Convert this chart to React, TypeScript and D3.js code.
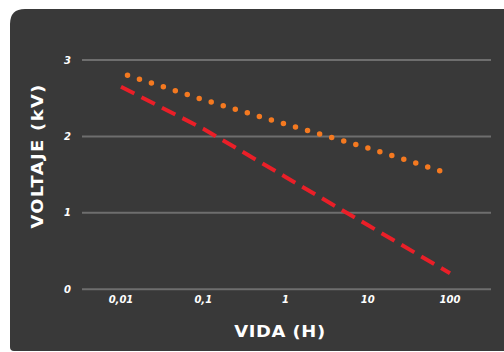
import React, { useEffect, useRef } from "react";
import * as d3 from "d3";

// hours (log axis)
const xTicks = [0.01, 0.1, 1, 10, 100];
const xTickLabels = ["0,01", "0,1", "1", "10", "100"];
const yTicks = [0, 1, 2, 3];

// red dashed series
const redX = [0.01, 0.1, 1, 10, 100];
const redY = [2.65, 2.1, 1.47, 0.84, 0.21];

// orange dotted series
const orangeX = [0.012, 0.1, 1, 10, 76];
const orangeY = [2.8, 2.48, 2.16, 1.85, 1.55];

const App = () => {
  const chartRef = useRef<SVGSVGElement>(null);

  useEffect(() => {
    const width = 504;
    const font = "'DejaVu Sans', Verdana, sans-serif";

    const svg = d3.select(chartRef.current);
    svg.selectAll("*").remove();

    // dark panel, rounded on the left
    const px = 10, py = 9, pr = 15, pb = 351, rb = 4;
    svg
      .append("path")
      .attr(
        "d",
        `M${px},${py + pr} Q${px},${py} ${px + pr},${py} L${width + 20},${py} L${width + 20},${pb} L${px + rb},${pb} Q${px},${pb} ${px},${pb - rb} Z`
      )
      .attr("fill", "#393939");

    const x = d3.scaleLog().domain([0.01, 100]).range([121, 450]);
    const y = d3.scaleLinear().domain([0, 3]).range([289.3, 60]);
    const gridLeft = 82;
    const gridRight = 491;

    // gridlines
    svg
      .selectAll(".grid")
      .data(yTicks)
      .enter()
      .append("line")
      .attr("class", "grid")
      .attr("x1", gridLeft)
      .attr("x2", gridRight)
      .attr("y1", (d) => y(d))
      .attr("y2", (d) => y(d))
      .attr("stroke", "#6e6e6e")
      .attr("stroke-width", 2);

    // y tick labels
    svg
      .selectAll(".ylab")
      .data(yTicks)
      .enter()
      .append("text")
      .attr("class", "ylab")
      .attr("x", 71)
      .attr("y", (d) => y(d))
      .attr("dy", "0.36em")
      .attr("text-anchor", "end")
      .style("font-family", font)
      .style("font-size", "10px")
      .style("font-weight", "bold")
      .style("font-style", "italic")
      .style("fill", "#ffffff")
      .text((d) => d);

    // x tick labels
    svg
      .selectAll(".xlab")
      .data(xTicks)
      .enter()
      .append("text")
      .attr("class", "xlab")
      .attr("x", (d) => x(d))
      .attr("y", 299.3)
      .attr("dy", "0.36em")
      .attr("text-anchor", "middle")
      .style("font-family", font)
      .style("font-size", "10px")
      .style("font-weight", "bold")
      .style("font-style", "italic")
      .style("fill", "#ffffff")
      .text((d, i) => xTickLabels[i]);

    const line = d3
      .line<[number, number]>()
      .x((d) => x(d[0]))
      .y((d) => y(d[1]));

    svg
      .append("path")
      .datum(redX.map((v, i) => [v, redY[i]] as [number, number]))
      .attr("fill", "none")
      .attr("stroke", "#ea1f28")
      .attr("stroke-width", 4)
      .attr("stroke-dasharray", "15 8")
      .attr("d", line);

    const dots = svg
      .append("path")
      .datum(orangeX.map((v, i) => [v, orangeY[i]] as [number, number]))
      .attr("fill", "none")
      .attr("stroke", "#f47920")
      .attr("stroke-width", 5.5)
      .attr("stroke-linecap", "round")
      .attr("d", line);
    // spread the dots so the last one lands on the end point
    const len = (dots.node() as SVGPathElement).getTotalLength();
    const gap = len / Math.round(len / 12.6) - 0.02;
    dots.attr("stroke-dasharray", `0 ${gap}`);

    // axis titles
    svg
      .append("text")
      .attr("transform", "translate(280,331) scale(1.12,1)")
      .attr("dy", "0.36em")
      .attr("text-anchor", "middle")
      .style("font-family", font)
      .style("font-size", "16px")
      .style("font-weight", "bold")
      .style("letter-spacing", "0.5px")
      .style("fill", "#ffffff")
      .text("VIDA (H)");

    svg
      .append("text")
      .attr("transform", "translate(37.5,156) rotate(-90) scale(1.12,1)")
      .attr("dy", "0.36em")
      .attr("text-anchor", "middle")
      .style("font-family", font)
      .style("font-size", "16px")
      .style("font-weight", "bold")
      .style("letter-spacing", "1.2px")
      .style("fill", "#ffffff")
      .text("VOLTAJE (kV)");
  }, []);

  return (
    <svg
      ref={chartRef}
      width={504}
      height={352}
      style={{ position: "absolute", left: 0, top: 0, background: "#ffffff" }}
    />
  );
};

export default App;
